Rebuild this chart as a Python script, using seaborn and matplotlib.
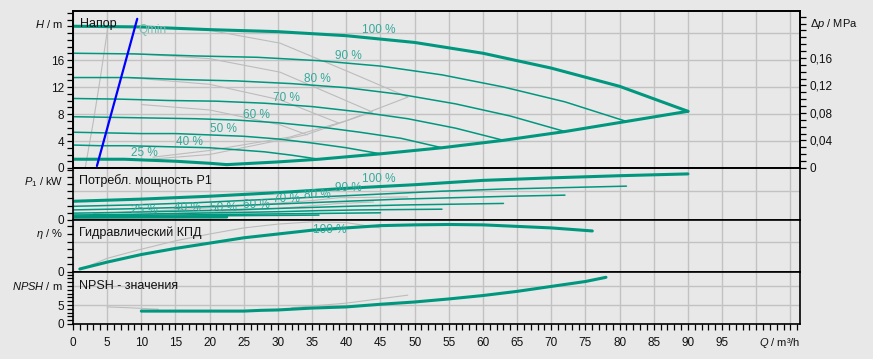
import matplotlib
matplotlib.use("Agg")
import matplotlib.pyplot as plt
import seaborn as sns
from matplotlib.ticker import MultipleLocator


# ---- head curves H(Q) per speed, Q in m3/h, H in m ----
SPEEDS = ["100 %", "90 %", "80 %", "70 %", "60 %", "50 %", "40 %", "25 %"]

q_100 = [0, 10, 20, 30, 40, 50, 60, 70, 80, 90]
h_100 = [21.0, 20.9, 20.5, 20.2, 19.6, 18.6, 17.0, 14.8, 12.1, 8.4]
q_90 = [0, 9, 18, 27, 36, 45, 54, 63, 72, 81]
h_90 = [17.0, 16.9, 16.6, 16.4, 15.9, 15.1, 13.8, 12.0, 9.8, 6.9]
q_80 = [0, 8, 16, 24, 32, 40, 48, 56, 64, 72]
h_80 = [13.4, 13.4, 13.1, 12.9, 12.5, 11.9, 10.9, 9.5, 7.7, 5.4]
q_70 = [0, 7, 14, 21, 28, 35, 42, 49, 56, 63]
h_70 = [10.3, 10.2, 10.0, 9.9, 9.6, 9.1, 8.3, 7.3, 5.9, 4.1]
q_60 = [0, 6, 12, 18, 24, 30, 36, 42, 48, 54]
h_60 = [7.6, 7.5, 7.4, 7.3, 7.1, 6.7, 6.1, 5.3, 4.4, 3.0]
q_50 = [0, 5, 10, 15, 20, 25, 30, 35, 40, 45]
h_50 = [5.3, 5.2, 5.1, 5.1, 4.9, 4.7, 4.3, 3.7, 3.0, 2.1]
q_40 = [0, 4, 8, 12, 16, 20, 24, 28, 32, 36]
h_40 = [3.4, 3.3, 3.3, 3.2, 3.1, 3.0, 2.7, 2.4, 1.9, 1.3]
q_25 = [0, 2.5, 5, 7.5, 10, 12.5, 15, 17.5, 20, 22.5]
h_25 = [1.3, 1.3, 1.3, 1.3, 1.2, 1.1, 1.0, 0.85, 0.7, 0.5]

# max-flow limit line (lower right boundary)
q_limit = [22.5, 30, 36, 45, 54, 63, 72, 81, 90]
h_limit = [0.5, 0.9, 1.3, 2.1, 3.0, 4.1, 5.4, 6.9, 8.4]

# Qmin line
q_qmin = [3.5, 9.4]
h_qmin = [0.3, 22.1]

# grey helper curves in head panel
gray_head = [
    ([1.8, 3.0, 4.1, 5.1], [0.1, 7.0, 14.0, 20.9]),
    ([15, 20, 30.3, 40, 49], [20.7, 20.4, 18.5, 14.4, 10.5]),
    ([8, 20, 30.3, 43.8], [17.0, 16.2, 14.2, 8.3]),
    ([8, 20, 30.3, 38.8], [13.4, 12.4, 10.1, 6.7]),
    ([10, 20, 30.3, 34.3], [9.4, 8.6, 6.4, 4.9]),
    ([11.7, 20, 31.8, 40, 49], [1.6, 2.6, 4.6, 7.0, 10.5]),
    ([10, 20, 34, 43.8], [1.2, 2.0, 4.9, 8.3]),
]

# label positions of speed texts in head panel
lab_q_head = [44.7, 40.3, 35.7, 31.3, 26.9, 22.0, 17.1, 10.5]
lab_h_head = [20.4, 16.6, 13.2, 10.4, 7.85, 5.8, 3.85, 2.2]

# ---- power P1(Q) per speed, kW ----
p_100 = [2.6, 2.9, 3.3, 3.8, 4.4, 4.9, 5.5, 5.85, 6.15, 6.4]
p_90 = [1.9, 2.1, 2.4, 2.8, 3.2, 3.6, 4.0, 4.3, 4.5, 4.7]
p_80 = [1.4, 1.55, 1.75, 2.0, 2.3, 2.6, 2.9, 3.1, 3.3, 3.45]
p_70 = [0.95, 1.05, 1.2, 1.35, 1.55, 1.75, 1.95, 2.1, 2.2, 2.3]
p_60 = [0.7, 0.75, 0.85, 0.95, 1.05, 1.15, 1.3, 1.4, 1.45, 1.5]
p_50 = [0.55, 0.6, 0.65, 0.7, 0.75, 0.8, 0.85, 0.9, 0.95, 1.0]
p_40 = [0.45, 0.47, 0.5, 0.52, 0.55, 0.58, 0.6, 0.63, 0.65, 0.68]
p_25 = [0.38, 0.38, 0.39, 0.39, 0.4, 0.4, 0.4, 0.41, 0.41, 0.42]

gray_power = [
    ([3, 15, 25, 35, 39, 49], [0.9, 1.4, 2.0, 2.7, 3.1, 3.2]),
    ([8, 20, 30, 39, 44], [0.7, 1.1, 1.6, 2.3, 2.5]),
]

lab_q_power = [44.7, 40.3, 35.7, 31.3, 26.9, 22.0, 16.8, 10.5]
lab_p_power = [5.69, 4.44, 3.47, 2.92, 2.08, 1.67, 1.67, 1.39]

# ---- hydraulic efficiency, % ----
q_eta = [1, 5, 10, 15, 20, 25, 30, 35, 40, 45, 50, 55, 60, 65, 70, 76]
eta_100 = [4, 13, 23, 31, 38, 45, 50, 55, 58, 61, 62, 62.5, 62, 60, 58, 54]
q_eta_gray = [1, 5, 10, 15, 20, 25, 30, 35, 40, 45]
eta_gray = [3, 18, 30, 41, 50, 58, 63, 66, 65, 58]

# ---- NPSH, m ----
q_npsh = [10, 15, 20, 25, 27.5, 30, 35, 40, 45, 50, 55, 60, 65, 70, 75, 78]
npsh = [3.4, 3.4, 3.4, 3.4, 3.6, 3.7, 4.2, 4.5, 5.2, 5.8, 6.6, 7.5, 8.6, 9.9, 11.2, 12.3]
gray_npsh = [
    ([5, 8, 12.5], [4.5, 4.3, 3.9]),
    ([32, 40, 49], [4.3, 5.5, 7.6]),
]

X_TICKS = list(range(0, 106, 5))
X_TICK_LABELS = [str(v) if v < 100 else "" for v in X_TICKS]
DP_TICKS = [0, 0.04, 0.08, 0.12, 0.16, 0.20]
DP_LABELS = ["0", "0,04", "0,08", "0,12", "0,16", ""]

W_PX, H_PX = 873, 359
Q_MAX = 106.4
H_MAX = 23.26
P_MAX = 7.22
ETA_MAX = 68.4
NPSH_MAX = 13.7

BG = "#e8e8e8"
TEAL = "#00977f"
LABEL_TEAL = "#35a99b"
GRAY = "#bcbcbc"
GRID = "#c2c2c2"
FS = 8

sns.set_style("ticks")
plt.rcParams["font.family"] = ["Liberation Sans", "DejaVu Sans"]
plt.rcParams["mathtext.fontset"] = "custom"
plt.rcParams["mathtext.rm"] = "Liberation Sans"
plt.rcParams["mathtext.it"] = "Liberation Sans:italic"

fig = plt.figure(figsize=(W_PX / 100, H_PX / 100), dpi=100, facecolor=BG)


def panel(top_px, bottom_px):
    left = 73 / W_PX
    width = (800 - 73) / W_PX
    bottom = 1 - bottom_px / H_PX
    height = (bottom_px - top_px) / H_PX
    return fig.add_axes([left, bottom, width, height], facecolor=BG)


def line(ax, q, y, color=TEAL, lw=1.1):
    sns.lineplot(x=q, y=y, ax=ax, color=color, linewidth=lw,
                 estimator=None, sort=False, legend=False)


def fig_text(x_px, y_px, s, ha="left", size=FS, **kw):
    fig.text(x_px / W_PX, 1 - y_px / H_PX, s, ha=ha, va="center",
             fontsize=size, color="#111111", **kw)


ax_h = panel(11, 168)
ax_p = panel(168, 220)
ax_e = panel(220, 272)
ax_n = panel(272, 324)

# head panel
for q, h in gray_head:
    line(ax_h, q, h, GRAY, 0.8)
head_curves = [(q_100, h_100), (q_90, h_90), (q_80, h_80), (q_70, h_70),
               (q_60, h_60), (q_50, h_50), (q_40, h_40), (q_25, h_25)]
for name, (q, h) in zip(SPEEDS, head_curves):
    thick = name in ("100 %", "25 %")
    line(ax_h, q, h, TEAL, 2.2 if thick else 1.1)
line(ax_h, q_limit, h_limit, TEAL, 2.2)
line(ax_h, q_qmin, h_qmin, "#0000ff", 1.6)
for name, x, y in zip(SPEEDS, lab_q_head, lab_h_head):
    ax_h.text(x, y, name, ha="center", va="center", fontsize=FS + 0.5, color=LABEL_TEAL)
ax_h.text(9.6, 20.4, "Qmin", ha="left", va="center", fontsize=FS + 0.5, color="#7dbcb2")

# power panel
power_curves = [p_100, p_90, p_80, p_70, p_60, p_50, p_40, p_25]
for q, h in gray_power:
    line(ax_p, q, h, GRAY, 0.8)
for name, (q, _), p in zip(SPEEDS, head_curves, power_curves):
    thick = name in ("100 %", "25 %")
    line(ax_p, q, p, TEAL, 2.2 if thick else 1.1)
for name, x, y in zip(SPEEDS, lab_q_power, lab_p_power):
    ax_p.text(x, y, name, ha="center", va="center", fontsize=FS + 0.5, color=LABEL_TEAL)

# efficiency panel
line(ax_e, q_eta_gray, eta_gray, GRAY, 0.8)
line(ax_e, q_eta, eta_100, TEAL, 2.2)
ax_e.text(37.6, 55, "100 %", ha="center", va="center", fontsize=FS + 0.5, color=LABEL_TEAL)

# NPSH panel
for q, h in gray_npsh:
    line(ax_n, q, h, GRAY, 0.8)
line(ax_n, q_npsh, npsh, TEAL, 2.2)

# axes styling
axes = [ax_h, ax_p, ax_e, ax_n]
for ax in axes:
    ax.set_xlim(0, Q_MAX)
    ax.set_xticks(X_TICKS, labels=X_TICK_LABELS)
    ax.xaxis.set_minor_locator(MultipleLocator(1))
    ax.set_axisbelow(True)
    ax.grid(True, which="major", color=GRID, linewidth=1.0)
    ax.set_xlabel("")
    ax.set_ylabel("")
    for s in ax.spines.values():
        s.set_color("black")
        s.set_linewidth(1.2)
        s.set_visible(True)
    ax.tick_params(axis="both", which="both", direction="out", color="black",
                   labelsize=FS + 0.5, labelcolor="#111111", width=0.9, length=4.5, pad=2)

for ax in axes[:-1]:
    ax.tick_params(axis="x", which="both", length=0, labelbottom=False)
ax_n.tick_params(axis="x", which="both", pad=5)

ax_h.set_ylim(0, H_MAX)
ax_h.set_yticks([0, 4, 8, 12, 16, 20], labels=["0", "4", "8", "12", "16", ""])
ax_h.yaxis.set_minor_locator(MultipleLocator(1))

ax_p.set_ylim(0, P_MAX)
ax_p.set_yticks([0, 4], labels=["0", ""])
ax_p.yaxis.set_minor_locator(MultipleLocator(1))

ax_e.set_ylim(0, ETA_MAX)
ax_e.set_yticks([0, 40], labels=["0", ""])
ax_e.yaxis.set_minor_locator(MultipleLocator(10))

ax_n.set_ylim(0, NPSH_MAX)
ax_n.set_yticks([0, 5, 10], labels=["0", "5", ""])
ax_n.yaxis.set_minor_locator(MultipleLocator(1))

ax_dp = ax_h.twinx()
ax_dp.set_ylim(0, H_MAX * 0.00981)
ax_dp.set_yticks(DP_TICKS, labels=DP_LABELS)
ax_dp.yaxis.set_minor_locator(MultipleLocator(0.01))
ax_dp.grid(False)
ax_dp.set_ylabel("")
ax_dp.tick_params(axis="y", which="both", direction="out", color="black",
                  labelsize=FS + 0.5, labelcolor="#111111", width=0.9, length=4.5, pad=2)
for s in ax_dp.spines.values():
    s.set_color("black")
    s.set_linewidth(1.2)

# panel titles and axis names
fig_text(80, 24, "Напор", size=9)
fig_text(79, 181, "Потребл. мощность P1", size=9)
fig_text(79, 233, "Гидравлический КПД", size=9)
fig_text(79, 286, "NPSH - значения", size=9)
fig_text(63, 24, r"$H$ / m", ha="right")
fig_text(63, 182, r"$P_1$ / kW", ha="right")
fig_text(63, 234, r"$η$ / %", ha="right")
fig_text(63, 286, r"$NPSH$ / m", ha="right")
fig_text(810, 24, r"$Δp$ / MPa")
fig_text(800, 343, r"$Q$ / m³/h", ha="right")

fig.savefig("out.png", dpi=100, facecolor=BG)
